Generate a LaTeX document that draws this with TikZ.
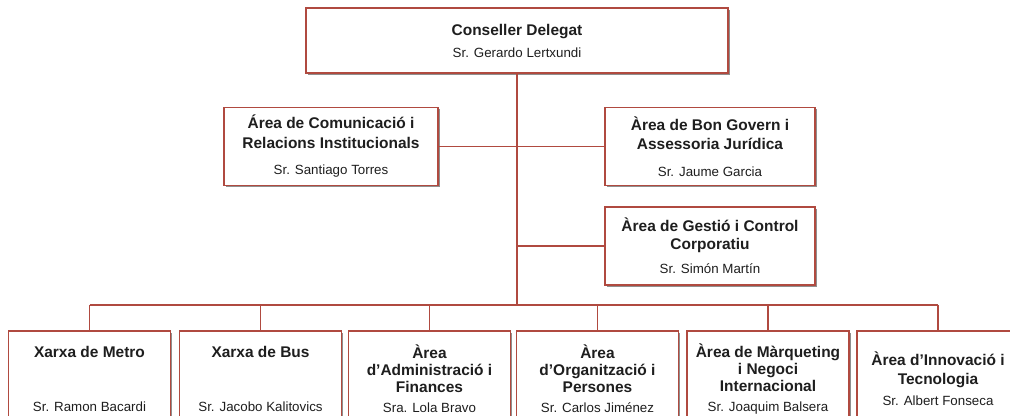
\documentclass[tikz,border=0pt]{standalone}
\usepackage{fontspec}
\setmainfont{Liberation Sans}
\usetikzlibrary{shadows}

\definecolor{boxline}{RGB}{176,74,64}
\definecolor{inkcol}{RGB}{30,30,30}
\lineskiplimit=-20pt

\tikzset{
  unit/.style={draw=boxline, fill=white, line width=0.8pt, align=center, text=inkcol, inner sep=1pt,
    drop shadow={shadow xshift=1.3pt, shadow yshift=-1.3pt, fill=black!55, opacity=0.8},
    font=\fontsize{11.6}{12.75}\selectfont\bfseries},
  topunit/.style={unit, minimum width=316.5pt, minimum height=48.75pt},
  midunit/.style={unit, minimum width=159pt, minimum height=58.5pt},
  lowunit/.style={unit, minimum width=121.5pt, minimum height=72pt},
  link/.style={draw=boxline, line width=0.8pt}
}
\newcommand{\who}[1]{{\fontsize{10}{12.75}\selectfont\mdseries #1}}

\begin{document}
\begin{tikzpicture}[x=0.75pt, y=-0.75pt]
  \useasboundingbox (0,0) rectangle (1010,415);
  \clip (0,0) rectangle (1010,415);

  % Draw the head of the chart
  \node[topunit] (ceo) at (517,40.5) {Conseller Delegat\\[3.75pt]\who{Sr. Gerardo Lertxundi}};

  % Draw the staff areas
  \node[midunit, minimum width=160.5pt] (comms) at (331,146.5) {Área de Comunicació i\\[1.9pt]Relacions Institucionals\\[7.1pt]\who{Sr. Santiago Torres}};
  \node[midunit, minimum width=157.5pt] (govern) at (710,146.5) {Àrea de Bon Govern i\\[1.9pt]Assessoria Jurídica\\[7.1pt]\who{Sr. Jaume Garcia}};
  \node[midunit, minimum width=157.5pt] (control) at (710,246) {Àrea de Gestió i Control\\[0.75pt]Corporatiu\\[5.25pt]\who{Sr. Simón Martín}};

  % Draw the line areas
  \node[lowunit] (metro) at (89.5,379) {Xarxa de Metro\\[27.75pt]\who{Sr. Ramon Bacardi}};
  \node[lowunit] (bus) at (260.5,379) {Xarxa de Bus\\[27.75pt]\who{Sr. Jacobo Kalitovics}};
  \node[lowunit] (finance) at (429.5,379) {Àrea\\d'Administració i\\Finances\\[2.25pt]\who{Sra. Lola Bravo}};
  \node[lowunit] (people) at (597.5,379) {Àrea\\d'Organització i\\Persones\\[2.25pt]\who{Sr. Carlos Jiménez}};
  \node[lowunit] (market) at (768,379) {Àrea de Màrqueting\\i Negoci\\Internacional\\[2.25pt]\who{Sr. Joaquim Balsera}};
  \node[lowunit] (innov) at (938,379) {Àrea d'Innovació i\\[1.5pt]Tecnologia\\[3pt]\who{Sr. Albert Fonseca}};

  % Draw the connectors
  \coordinate (hub) at (517,305);
  \draw[link] (ceo.south) -- (hub);
  \draw[link] (comms.east) -- (comms.east -| ceo.south);
  \draw[link] (govern.west) -- (govern.west -| ceo.south);
  \draw[link] (control.west) -- (control.west -| ceo.south);
  \draw[link] (metro.north |- hub) -- (innov.north |- hub);
  \foreach \area in {metro,bus,finance,people,market,innov}
    \draw[link] (\area.north) -- (\area.north |- hub);
\end{tikzpicture}
\end{document}
